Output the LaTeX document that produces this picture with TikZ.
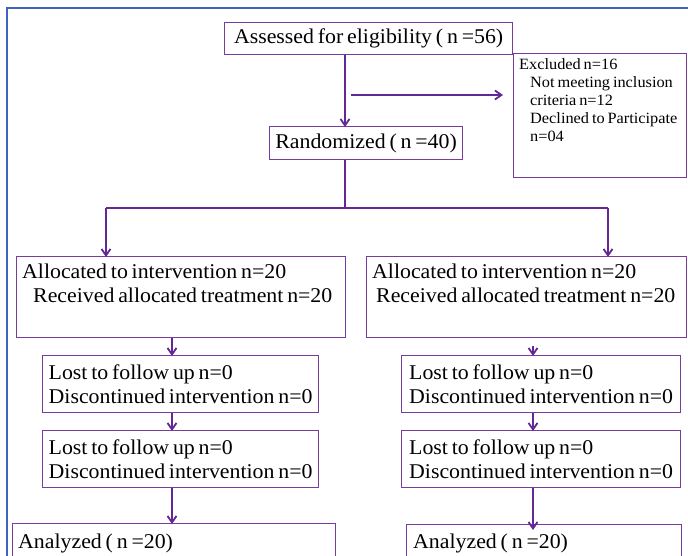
\documentclass[tikz,border=0pt]{standalone}
\usepackage{fontspec}
\setmainfont{Liberation Serif}[FakeStretch=1.04, WordSpace=0.7]
\usetikzlibrary{arrows.meta}
\definecolor{boxc}{RGB}{118,60,160}
\definecolor{arrc}{RGB}{100,40,150}
\definecolor{framec}{RGB}{62,100,190}
\begin{document}
\begin{tikzpicture}[x=1pt,y=-1pt,
  box/.style={draw=boxc, line width=1.2pt, anchor=north west, inner sep=0pt, align=left,
              font=\fontsize{21}{24}\selectfont},
  txt/.style={anchor=base west, inner sep=0pt, align=left, font=\fontsize{21}{24}\selectfont},
  small/.style={anchor=base west, inner sep=0pt, align=left, font=\fontsize{15.7}{18}\selectfont},
  arr/.style={draw=arrc, line width=1.8pt, -{Straight Barb[length=6.5pt,width=9pt]}},
  ln/.style={draw=arrc, line width=1.8pt}]
\useasboundingbox (0,0) rectangle (688,555);
\clip (0,0) rectangle (688,555);
\fill[white] (0,0) rectangle (688,555);
% outer frame
\draw[framec, line width=2pt] (6.5,560) -- (6.5,8) -- (690,8);

% top part
\node[box, minimum width=288pt, minimum height=32pt] (assess) at (224,22) {Assessed for eligibility ( n =56)};
\node[box, minimum width=173pt, minimum height=124pt] (excl) at (513,53) {};
% anchor base = baseline of the last line
\node[small] (exclt) at (519,141) {Excluded n=16\\
  \hspace*{11pt}Not meeting inclusion\\
  \hspace*{11pt}criteria n=12\\
  \hspace*{11pt}Declined to Participate\\
  \hspace*{11pt}n=04};
\node[box, minimum width=193pt, minimum height=33pt] (rand) at (269,126) {Randomized ( n =40)};

% allocation
\node[box, minimum width=329pt, minimum height=81pt] (allocL) at (16,256) {};
\node[txt] (allocLt) at (22,302) {Allocated to intervention n=20\\\hspace*{11pt}Received allocated treatment n=20};
\node[box, minimum width=320pt, minimum height=81pt] (allocR) at (366,256) {};
\node[txt] (allocRt) at (372,302) {Allocated to intervention n=20\\\hspace*{4pt}Received allocated treatment n=20};

% follow-up
\node[box, minimum width=276pt, minimum height=57pt] (lostLa) at (42,355) {Lost to follow up n=0\\Discontinued intervention n=0};
\node[box, minimum width=276pt, minimum height=57pt] (lostLb) at (42,430) {Lost to follow up n=0\\Discontinued intervention n=0};
\node[box, minimum width=279pt, minimum height=57pt] (lostRa) at (401,355) {Lost to follow up n=0\\Discontinued intervention n=0};
\node[box, minimum width=279pt, minimum height=57pt] (lostRb) at (401,430) {Lost to follow up n=0\\Discontinued intervention n=0};

% analyzed
\node[box, minimum width=323pt, minimum height=45pt] (anaL) at (12,523) {};
\node[txt] (anaLt) at (18,548) {Analyzed ( n =20)};
\node[box, minimum width=275pt, minimum height=45pt] (anaR) at (406,524) {};
\node[txt] (anaRt) at (413,548) {Analyzed ( n =20)};

% connectors
\coordinate (spine) at (345,0);
\coordinate (exA) at (351,95);
\coordinate (split) at (345,208);
\coordinate (brL) at (106,208);
\coordinate (brR) at (608,208);
\coordinate (colL) at (172,0);
\coordinate (colR) at (533,0);

\draw[arr] (spine |- assess.south) -- ([yshift=-1pt]spine |- rand.north);
\draw[arr] (exA) -- ([xshift=-10pt]exA -| excl.west);
\draw[ln] (spine |- rand.south) -- (split);
\draw[ln] (brL) -- (brR);
\draw[arr] (brL) -- ([yshift=-1pt]brL |- allocL.north);
\draw[arr] (brR) -- ([yshift=-1pt]brR |- allocR.north);

\draw[arr] (colL |- allocL.south) -- ([yshift=-1pt]colL |- lostLa.north);
\draw[arr] (colL |- lostLa.south) -- ([yshift=-1pt]colL |- lostLb.north);
\draw[arr] (colL |- lostLb.south) -- ([yshift=-1pt]colL |- anaL.north);
\draw[arr] ([yshift=-8pt]colR |- allocR.south) -- ([yshift=-1pt]colR |- lostRa.north);
\draw[arr] (colR |- lostRa.south) -- ([yshift=-1pt]colR |- lostRb.north);
\draw[arr] (colR |- lostRb.south) -- ([yshift=-6pt]colR |- anaR.north);
\end{tikzpicture}
\end{document}
